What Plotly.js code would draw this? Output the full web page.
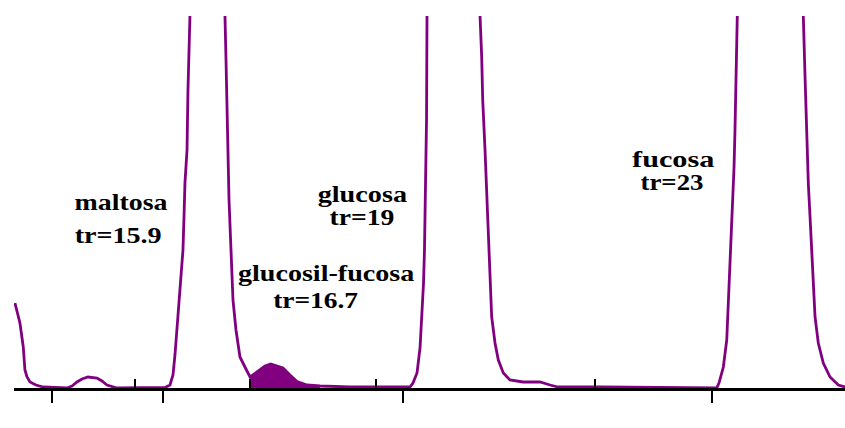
<!DOCTYPE html>
<html>
<head>
<meta charset="utf-8">
<script src="https://cdn.plot.ly/plotly-3.0.1.min.js"></script>
<style>
  html, body { margin: 0; padding: 0; background: #ffffff; }
  #grafico { width: 845px; height: 428px; }
</style>
</head>
<body>
<div id="grafico"></div>
<script>
// Cromatograma: tiempo de retención (min) frente a señal del detector
const tiempo = [
  13.473, 13.505, 13.536, 13.578, 13.599, 13.625, 13.663, 13.738, 13.827, 14.129,
  14.193, 14.256, 14.319, 14.394, 14.458, 14.508, 14.571, 14.634, 14.760, 15.303,
  15.366, 15.429, 15.467, 15.492, 15.530, 15.568, 15.593, 15.606, 15.618, 15.644,
  15.656, 15.681, 15.694, 15.9, 16.121, 16.123, 16.136, 16.148, 16.155, 16.174,
  16.199, 16.224, 16.262, 16.312, 16.375, 16.439, 16.527, 16.628, 16.7, 16.855,
  16.943, 17.032, 17.158, 17.322, 17.700, 18.331, 18.394, 18.457, 18.495, 18.546,
  18.584, 18.609, 18.628, 18.640, 18.653, 18.666, 18.672, 18.675, 19, 19.337,
  19.341, 19.362, 19.375, 19.404, 19.438, 19.454, 19.467, 19.488, 19.530, 19.572,
  19.635, 19.719, 19.883, 20.098, 20.224, 20.325, 20.855, 21.486, 22.117, 22.268,
  22.327, 22.356, 22.411, 22.454, 22.474, 22.495, 22.517, 22.529, 22.546, 22.558,
  22.577, 22.587, 22.590, 23, 23.416, 23.420, 23.442, 23.463, 23.483, 23.505,
  23.526, 23.546, 23.568, 23.609, 23.672, 23.757, 23.862, 23.946
];
const senal = [
  85, 75, 65, 41, 18, 11, 6, 3, 1, 0,
  2, 6, 9, 11, 10.5, 10, 7, 3, 0, 0,
  0.5, 3, 13, 33, 71, 105, 138, 171, 205, 238,
  298, 372, 418, 1500, 418, 372, 328, 283, 238, 188,
  138, 88, 58, 31, 21, 11, 16, 22, 24, 20,
  13, 6.5, 3, 2, 1, 1, 0.5, 1, 5, 15,
  40, 73, 105, 138, 188, 268, 372, 418, 2000, 418,
  372, 331, 288, 238, 171, 138, 105, 71, 45, 28,
  15, 8, 6, 6, 3, 1, 1, 0.5, 0, 0,
  0, 5, 21, 48, 83, 121, 155, 188, 221, 258,
  328, 372, 418, 2000, 418, 372, 311, 248, 205, 171,
  138, 105, 71, 45, 25, 11, 3, 1
];

// Compuestos identificados y sus tiempos de retención
const compuestos = ['maltosa', 'glucosil-fucosa', 'glucosa', 'fucosa'];
const tr = [15.9, 16.7, 19, 23];

// Marcas del eje de tiempo
const marcasMayores = [13.94, 15.34, 18.37, 22.27];
const marcasMenores = [14.99, 16.44, 18.03, 20.79];

// Límites del pico integrado (glucosil-fucosa)
const integracion = [16.439, 17.322];

const PURPURA = '#800080';
const FUENTE = '"Liberation Serif", "Times New Roman", Times, serif';

// Colocación de los rótulos: centro (x en min, y en unidades de señal), ancho y cuerpo en px
const rotulos = [
  { nombre: { x: 14.811, y: 186, w: 93, t: 24 },  tr: { x: 14.773, y: 153, w: 87, t: 24 } },
  { nombre: { x: 17.410, y: 115, w: 177, t: 23 }, tr: { x: 17.271, y: 88,  w: 85, t: 23 } },
  { nombre: { x: 17.864, y: 194, w: 90, t: 23 },  tr: { x: 17.852, y: 171, w: 65, t: 23 } },
  { nombre: { x: 21.776, y: 229, w: 83, t: 23 },  tr: { x: 21.763, y: 206, w: 63, t: 23 } }
];

const dentro = tiempo.map((t, i) => t >= integracion[0] && t <= integracion[1] ? i : -1).filter(i => i >= 0);

const trazas = [
  {
    x: dentro.map(i => tiempo[i]),
    y: dentro.map(i => senal[i]),
    type: 'scatter', mode: 'lines',
    fill: 'tozeroy', fillcolor: PURPURA,
    line: { color: PURPURA, width: 1 },
    hoverinfo: 'skip'
  },
  {
    x: tiempo, y: senal,
    type: 'scatter', mode: 'lines',
    line: { color: PURPURA, width: 2.8 },
    hoverinfo: 'skip'
  }
];

const anchos = [];
const anotaciones = [];
compuestos.forEach((nombre, i) => {
  const r = rotulos[i];
  anotaciones.push({
    x: r.nombre.x, y: r.nombre.y, xref: 'x', yref: 'y',
    text: nombre, showarrow: false,
    xanchor: 'center', yanchor: 'middle', borderpad: 0,
    font: { family: FUENTE, size: r.nombre.t, weight: 'bold', color: '#000000' }
  });
  anchos.push(r.nombre.w);
  anotaciones.push({
    x: r.tr.x, y: r.tr.y, xref: 'x', yref: 'y',
    text: 'tr=' + tr[i], showarrow: false,
    xanchor: 'center', yanchor: 'middle', borderpad: 0,
    font: { family: FUENTE, size: r.tr.t, weight: 'bold', color: '#000000' }
  });
  anchos.push(r.tr.w);
});
// Título del eje de tiempo
anotaciones.push({
  x: 19.505, y: -27, xref: 'x', yref: 'y',
  text: 'tiempo (min)', showarrow: false,
  xanchor: 'center', yanchor: 'middle', borderpad: 0,
  font: { family: FUENTE, size: 20, weight: 'bold', color: '#000000' }
});
anchos.push(123);

const layout = {
  width: 845, height: 428,
  margin: { l: 14, r: 0, t: 16, b: 40, pad: 0 },
  paper_bgcolor: '#ffffff', plot_bgcolor: '#ffffff',
  showlegend: false,
  xaxis: {
    range: [13.461, 23.946],
    showgrid: false, zeroline: false,
    showline: true, linecolor: '#000000', linewidth: 2.5,
    ticks: 'outside', tickmode: 'array', tickvals: marcasMayores,
    ticklen: 12, tickwidth: 2.5, tickcolor: '#000000',
    showticklabels: false,
    minor: {
      tickmode: 'array', tickvals: marcasMenores,
      ticks: 'inside', ticklen: 9, tickwidth: 2.5, tickcolor: '#000000',
      showgrid: false
    },
    fixedrange: true
  },
  yaxis: {
    range: [0, 372], visible: false, fixedrange: true
  },
  annotations: anotaciones
};

Plotly.newPlot('grafico', trazas, layout, { staticPlot: true, displayModeBar: false }).then(gd => {
  // Los rótulos usan una tipografía ensanchada horizontalmente
  gd.querySelectorAll('g.annotation').forEach(g => {
    const idx = +g.getAttribute('data-index');
    const txt = g.querySelector('text.annotation-text');
    if (!txt || !anchos[idx]) return;
    const bb = txt.getBBox();
    const cx = bb.x + bb.width / 2;
    const s = anchos[idx] / bb.width;
    const previo = txt.getAttribute('transform') || '';
    txt.setAttribute('transform', previo + ' translate(' + cx + ',0) scale(' + s + ',1) translate(' + (-cx) + ',0)');
  });
});
</script>
</body>
</html>
